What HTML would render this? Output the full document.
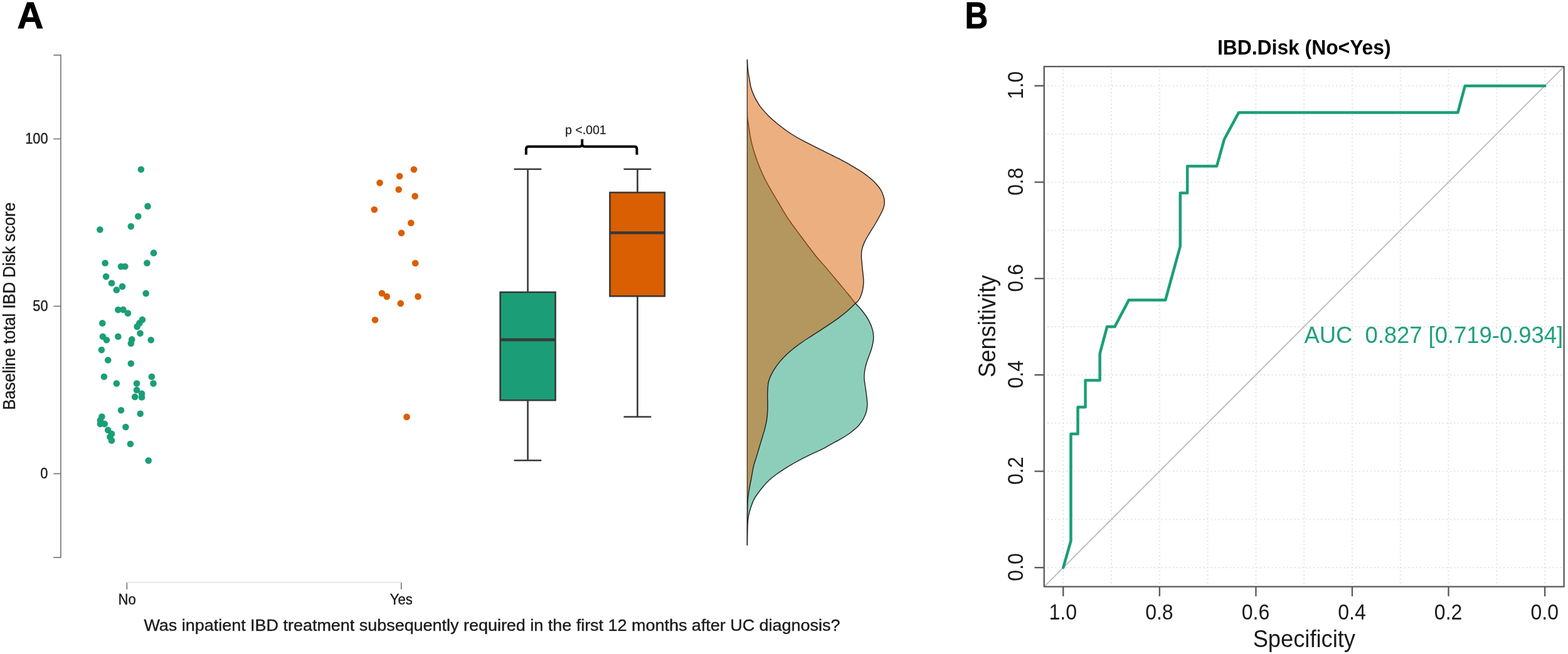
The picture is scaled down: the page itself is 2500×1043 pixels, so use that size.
<!DOCTYPE html>
<html lang="en">
<head>
<meta charset="utf-8">
<title>IBD Disk score and inpatient treatment</title>
<style>
html,body{margin:0;padding:0;background:#fff;}
body{width:2500px;height:1043px;overflow:hidden;}
svg{display:block;}
</style>
</head>
<body>
<svg width="2500" height="1043" viewBox="0 0 2500 1043" role="img" aria-label="Panel A: raincloud plot of baseline total IBD Disk score by inpatient treatment; Panel B: ROC curve">
<rect width="2500" height="1043" fill="#fff"/>
<g>
<g font-family="'Liberation Sans', sans-serif" font-weight="bold" fill="#000" stroke="#000" stroke-width="1" stroke-linejoin="miter">
<text x="27.5" y="44.8" font-size="60.1" textLength="41.8" lengthAdjust="spacingAndGlyphs">A</text>
</g>
<g fill="none" stroke="#7a7a7a" stroke-width="1.7">
<path d="M85.3 87.9H96.9V889.2H85.3"/>
<path d="M85.3 221.5H96.9"/>
<path d="M85.3 488.4H96.9"/>
<path d="M85.3 755.4H96.9"/>
<path d="M202.3 940V929 M639.8 940V929"/>
</g>
<path d="M202.3 928.7H639.8" fill="none" stroke="#dedede" stroke-width="1.6"/>
<g font-family="'Liberation Sans', sans-serif" fill="#1a1a1a" stroke="#1a1a1a" stroke-width="0.35">
<text transform="translate(76.5 229.2) scale(1 1.1)" font-size="21.8" text-anchor="end">100</text>
<text transform="translate(76.5 496.1) scale(1 1.1)" font-size="21.8" text-anchor="end">50</text>
<text transform="translate(76.5 763.1) scale(1 1.1)" font-size="21.8" text-anchor="end">0</text>
<text transform="translate(202.6 963.7) scale(1 1.085)" font-size="22.1" text-anchor="middle">No</text>
<text transform="translate(639.7 963.7) scale(1 1.085)" font-size="22.1" text-anchor="middle">Yes</text>
<text transform="translate(784.4 1005.5) scale(1 1.04)" font-size="24.6" text-anchor="middle" textLength="1110" lengthAdjust="spacingAndGlyphs">Was inpatient IBD treatment subsequently required in the first 12 months after UC diagnosis?</text>
<text transform="translate(23.8 488.3) rotate(-90) scale(1 1.05)" font-size="25.6" text-anchor="middle" textLength="331" lengthAdjust="spacingAndGlyphs">Baseline total IBD Disk score</text>
<text transform="translate(933.8 213.6) scale(1 1.03)" font-size="19.5" text-anchor="middle" stroke-width="0.2">p &lt;.001</text>
</g>
<g fill="#1B9E77">
<circle cx="224.9" cy="270.2" r="5.3"/>
<circle cx="235.5" cy="328.9" r="5.3"/>
<circle cx="220.3" cy="345.0" r="5.3"/>
<circle cx="208.8" cy="361.1" r="5.3"/>
<circle cx="159.3" cy="366.3" r="5.3"/>
<circle cx="245.0" cy="403.4" r="5.3"/>
<circle cx="167.6" cy="419.5" r="5.3"/>
<circle cx="234.4" cy="419.5" r="5.3"/>
<circle cx="193.0" cy="425.0" r="5.3"/>
<circle cx="199.3" cy="425.0" r="5.3"/>
<circle cx="169.1" cy="441.1" r="5.3"/>
<circle cx="178.0" cy="451.5" r="5.3"/>
<circle cx="195.0" cy="456.9" r="5.3"/>
<circle cx="185.8" cy="462.4" r="5.3"/>
<circle cx="232.7" cy="467.9" r="5.3"/>
<circle cx="188.3" cy="494.1" r="5.3"/>
<circle cx="196.4" cy="493.9" r="5.3"/>
<circle cx="203.9" cy="499.6" r="5.3"/>
<circle cx="226.9" cy="509.9" r="5.3"/>
<circle cx="163.3" cy="515.4" r="5.3"/>
<circle cx="222.3" cy="515.4" r="5.3"/>
<circle cx="218.6" cy="520.9" r="5.3"/>
<circle cx="223.5" cy="531.6" r="5.3"/>
<circle cx="163.9" cy="536.8" r="5.3"/>
<circle cx="188.3" cy="536.8" r="5.3"/>
<circle cx="169.9" cy="542.3" r="5.3"/>
<circle cx="210.2" cy="541.4" r="5.3"/>
<circle cx="240.7" cy="542.3" r="5.3"/>
<circle cx="208.8" cy="547.7" r="5.3"/>
<circle cx="161.9" cy="558.1" r="5.3"/>
<circle cx="172.2" cy="574.2" r="5.3"/>
<circle cx="208.8" cy="579.7" r="5.3"/>
<circle cx="165.9" cy="600.7" r="5.3"/>
<circle cx="241.9" cy="600.7" r="5.3"/>
<circle cx="185.8" cy="611.6" r="5.3"/>
<circle cx="218.0" cy="611.6" r="5.3"/>
<circle cx="244.5" cy="611.6" r="5.3"/>
<circle cx="218.0" cy="622.0" r="5.3"/>
<circle cx="226.0" cy="627.7" r="5.3"/>
<circle cx="215.1" cy="632.9" r="5.3"/>
<circle cx="226.0" cy="633.5" r="5.3"/>
<circle cx="193.0" cy="654.2" r="5.3"/>
<circle cx="223.7" cy="659.7" r="5.3"/>
<circle cx="162.4" cy="664.6" r="5.3"/>
<circle cx="159.9" cy="670.3" r="5.3"/>
<circle cx="159.9" cy="676.1" r="5.3"/>
<circle cx="166.8" cy="676.1" r="5.3"/>
<circle cx="200.4" cy="681.0" r="5.3"/>
<circle cx="172.2" cy="685.9" r="5.3"/>
<circle cx="178.0" cy="691.9" r="5.3"/>
<circle cx="175.4" cy="696.8" r="5.3"/>
<circle cx="178.0" cy="702.6" r="5.3"/>
<circle cx="207.9" cy="708.0" r="5.3"/>
<circle cx="236.7" cy="734.5" r="5.3"/>
</g>
<g fill="#D95F02">
<circle cx="659.9" cy="270.3" r="5.3"/>
<circle cx="637.1" cy="281.0" r="5.3"/>
<circle cx="605.5" cy="291.6" r="5.3"/>
<circle cx="635.7" cy="302.3" r="5.3"/>
<circle cx="661.6" cy="312.9" r="5.3"/>
<circle cx="596.8" cy="334.2" r="5.3"/>
<circle cx="655.3" cy="355.5" r="5.3"/>
<circle cx="640.0" cy="371.6" r="5.3"/>
<circle cx="662.2" cy="419.7" r="5.3"/>
<circle cx="608.9" cy="467.7" r="5.3"/>
<circle cx="616.7" cy="472.9" r="5.3"/>
<circle cx="666.5" cy="472.9" r="5.3"/>
<circle cx="638.8" cy="483.9" r="5.3"/>
<circle cx="598.0" cy="510.3" r="5.3"/>
<circle cx="648.5" cy="664.9" r="5.3"/>
</g>
<g stroke="#383838" stroke-width="2.6" fill="none">
<path d="M819.5 269.7H863.2 M841.5 269.7V466 M841.5 638.3V734.3 M819.5 734.3H863.2"/>
<path d="M994.4 269.7H1038.3 M1016.4 269.7V307 M1016.4 472.3V664.7 M994.4 664.7H1038.3"/>
<rect x="797.6" y="466" width="87.9" height="172.3" fill="#1B9E77"/>
<rect x="972.4" y="307" width="87.4" height="165.3" fill="#D95F02"/>
<path d="M797.6 541.9H885.5 M972.4 371.3H1059.8" stroke-width="4.6"/>
</g>
<path d="M838.8 246.8V237.7Q838.8 233.8 842.8 233.8H924.2Q928.2 233.8 928.2 229.8V221.9 M928.2 229.8Q928.2 233.8 932.2 233.8H1011.4Q1015.4 233.8 1015.4 237.7V246.8" fill="none" stroke="#000" stroke-width="3.9" stroke-linecap="butt"/>
<g stroke="#1e1e1e" stroke-width="1.4" stroke-linejoin="round">
<path d="M1191.4 95.1 C1191.4 107.6 1191.4 154.6 1191.4 170.0 C1191.5 185.4 1191.5 183.0 1191.7 187.3 C1192.0 191.6 1192.3 191.6 1192.9 195.9 C1193.5 200.2 1194.5 207.4 1195.5 213.2 C1196.5 218.9 1197.5 224.7 1199.0 230.4 C1200.5 236.2 1202.2 241.6 1204.2 247.7 C1206.2 253.8 1208.5 260.4 1211.1 266.7 C1213.7 273.0 1216.5 279.4 1219.7 285.7 C1222.9 292.0 1226.6 298.6 1230.1 304.6 C1233.5 310.6 1236.1 314.7 1240.4 321.9 C1244.7 329.1 1249.8 338.5 1256.0 347.8 C1262.2 357.1 1270.2 367.6 1277.5 377.5 C1284.8 387.4 1293.4 398.9 1300.0 407.2 C1306.6 415.5 1311.5 420.3 1317.3 427.1 C1323.0 433.9 1328.8 440.9 1334.5 447.8 C1340.2 454.7 1346.9 462.5 1351.8 468.5 C1356.7 474.5 1360.5 479.6 1363.9 483.7 C1367.4 487.8 1369.6 489.5 1372.5 493.0 C1375.4 496.5 1378.8 500.9 1381.2 504.5 C1383.6 508.1 1385.2 511.0 1386.9 514.6 C1388.6 518.2 1390.2 522.5 1391.2 526.1 C1392.2 529.7 1392.6 532.8 1392.7 536.1 C1392.8 539.5 1392.6 542.6 1392.0 546.2 C1391.4 549.8 1390.2 554.1 1389.1 557.7 C1388.0 561.3 1386.7 564.4 1385.5 567.8 C1384.3 571.1 1383.0 574.2 1381.9 577.8 C1380.8 581.4 1379.7 585.1 1379.0 589.3 C1378.3 593.5 1377.7 597.8 1377.9 603.0 C1378.1 608.2 1379.5 615.2 1380.2 620.7 C1380.9 626.2 1381.8 631.6 1382.2 636.0 C1382.6 640.4 1383.0 643.2 1382.8 646.8 C1382.6 650.4 1382.1 653.9 1381.0 657.5 C1379.9 661.1 1378.5 664.6 1376.4 668.2 C1374.4 671.8 1372.0 675.4 1368.7 679.0 C1365.4 682.6 1361.0 686.2 1356.4 689.7 C1351.8 693.2 1346.2 696.6 1341.1 699.7 C1336.0 702.8 1330.8 705.3 1325.7 708.1 C1320.6 710.9 1315.5 714.0 1310.4 716.6 C1305.3 719.2 1300.2 721.2 1295.1 723.6 C1290.0 726.0 1284.8 728.5 1279.7 731.1 C1274.6 733.8 1269.5 736.5 1264.4 739.5 C1259.3 742.5 1253.5 745.9 1249.0 748.8 C1244.5 751.7 1241.3 753.9 1237.5 756.8 C1233.7 759.7 1229.8 762.4 1226.0 766.0 C1222.2 769.6 1218.3 773.9 1214.5 778.7 C1210.7 783.5 1205.9 789.8 1203.0 794.8 C1200.1 799.8 1198.8 804.2 1197.3 808.6 C1195.8 813.0 1194.7 816.9 1193.8 821.3 C1192.9 825.7 1192.5 827.1 1192.1 835.1 C1191.7 843.1 1191.5 863.7 1191.4 869.4 Z" fill="#1B9E77" fill-opacity="0.5"/>
<path d="M1191.4 95.1 C1191.5 96.6 1191.7 101.0 1191.9 104.0 C1192.1 107.0 1192.2 109.2 1192.7 113.0 C1193.2 116.8 1194.2 122.4 1195.0 126.8 C1195.8 131.2 1196.0 134.9 1197.3 139.5 C1198.6 144.1 1201.1 150.2 1203.0 154.4 C1204.9 158.6 1206.9 161.7 1208.8 164.8 C1210.7 167.9 1211.6 169.5 1214.5 172.9 C1217.4 176.3 1221.8 181.3 1226.0 185.5 C1230.2 189.7 1235.3 193.9 1240.0 197.8 C1244.7 201.7 1249.6 205.3 1254.4 208.7 C1259.2 212.1 1264.0 215.1 1268.8 218.0 C1273.6 220.9 1278.3 223.4 1283.1 225.9 C1287.9 228.4 1292.7 230.7 1297.5 233.1 C1302.3 235.5 1307.1 237.9 1311.9 240.3 C1316.7 242.7 1321.5 245.1 1326.3 247.5 C1331.1 249.9 1335.8 252.2 1340.6 254.7 C1345.4 257.2 1350.2 259.9 1355.0 262.6 C1359.8 265.4 1364.6 268.1 1369.4 271.2 C1374.2 274.3 1379.5 277.9 1383.8 281.3 C1388.1 284.7 1391.9 287.9 1395.3 291.4 C1398.7 294.9 1401.6 298.4 1403.9 302.1 C1406.2 305.8 1407.9 310.3 1408.9 313.7 C1410.0 317.1 1410.2 319.6 1410.2 322.5 C1410.2 325.4 1409.9 327.7 1408.8 331.0 C1407.7 334.3 1405.9 338.0 1403.6 342.5 C1401.3 347.0 1397.9 353.1 1395.0 358.0 C1392.1 362.9 1389.1 367.2 1386.4 371.8 C1383.7 376.4 1380.6 381.3 1378.6 385.6 C1376.6 389.9 1375.2 393.7 1374.3 397.7 C1373.4 401.7 1373.4 405.5 1373.4 409.8 C1373.5 414.1 1374.2 419.0 1374.6 423.6 C1375.0 428.2 1375.6 433.1 1376.0 437.4 C1376.4 441.7 1377.0 445.5 1376.9 449.5 C1376.8 453.5 1376.3 457.9 1375.6 461.6 C1374.9 465.4 1373.7 469.0 1372.5 472.0 C1371.3 475.0 1369.6 477.9 1368.2 479.8 C1366.8 481.8 1366.8 481.0 1363.9 483.7 C1361.0 486.4 1355.5 491.9 1351.0 495.9 C1346.5 499.8 1341.4 503.8 1336.6 507.4 C1331.8 511.0 1327.0 514.2 1322.2 517.4 C1317.4 520.6 1312.6 523.7 1307.8 526.8 C1303.0 529.9 1298.3 533.0 1293.5 536.1 C1288.7 539.2 1283.9 542.1 1279.1 545.5 C1274.3 548.9 1269.0 552.8 1264.7 556.3 C1260.4 559.8 1256.8 562.8 1253.2 566.3 C1249.6 569.8 1246.1 573.5 1243.1 577.1 C1240.1 580.7 1237.6 584.2 1235.2 587.9 C1232.8 591.6 1230.5 595.8 1228.8 599.4 C1227.1 603.0 1226.0 606.2 1225.2 609.5 C1224.4 612.8 1224.5 615.6 1224.2 619.0 C1224.0 622.4 1223.7 625.8 1223.7 629.9 C1223.7 634.0 1224.0 639.1 1224.0 643.7 C1224.0 648.3 1224.0 652.9 1223.7 657.5 C1223.4 662.1 1223.0 666.7 1222.2 671.3 C1221.4 675.9 1220.4 680.2 1219.1 685.1 C1217.8 690.0 1216.0 695.4 1214.5 700.5 C1213.0 705.6 1211.4 710.7 1209.9 715.8 C1208.4 720.9 1206.7 726.5 1205.3 731.1 C1203.9 735.7 1202.8 737.6 1201.5 743.4 C1200.2 749.2 1198.6 759.2 1197.3 766.0 C1196.0 772.8 1194.7 778.6 1193.8 784.4 C1192.9 790.1 1192.5 792.9 1192.1 800.5 C1191.7 808.1 1191.6 818.5 1191.5 830.0 C1191.4 841.5 1191.4 862.8 1191.4 869.4 Z" fill="#D95F02" fill-opacity="0.5" stroke="none"/>
<path d="M1191.4 95.1 C1191.5 96.6 1191.7 101.0 1191.9 104.0 C1192.1 107.0 1192.2 109.2 1192.7 113.0 C1193.2 116.8 1194.2 122.4 1195.0 126.8 C1195.8 131.2 1196.0 134.9 1197.3 139.5 C1198.6 144.1 1201.1 150.2 1203.0 154.4 C1204.9 158.6 1206.9 161.7 1208.8 164.8 C1210.7 167.9 1211.6 169.5 1214.5 172.9 C1217.4 176.3 1221.8 181.3 1226.0 185.5 C1230.2 189.7 1235.3 193.9 1240.0 197.8 C1244.7 201.7 1249.6 205.3 1254.4 208.7 C1259.2 212.1 1264.0 215.1 1268.8 218.0 C1273.6 220.9 1278.3 223.4 1283.1 225.9 C1287.9 228.4 1292.7 230.7 1297.5 233.1 C1302.3 235.5 1307.1 237.9 1311.9 240.3 C1316.7 242.7 1321.5 245.1 1326.3 247.5 C1331.1 249.9 1335.8 252.2 1340.6 254.7 C1345.4 257.2 1350.2 259.9 1355.0 262.6 C1359.8 265.4 1364.6 268.1 1369.4 271.2 C1374.2 274.3 1379.5 277.9 1383.8 281.3 C1388.1 284.7 1391.9 287.9 1395.3 291.4 C1398.7 294.9 1401.6 298.4 1403.9 302.1 C1406.2 305.8 1407.9 310.3 1408.9 313.7 C1410.0 317.1 1410.2 319.6 1410.2 322.5 C1410.2 325.4 1409.9 327.7 1408.8 331.0 C1407.7 334.3 1405.9 338.0 1403.6 342.5 C1401.3 347.0 1397.9 353.1 1395.0 358.0 C1392.1 362.9 1389.1 367.2 1386.4 371.8 C1383.7 376.4 1380.6 381.3 1378.6 385.6 C1376.6 389.9 1375.2 393.7 1374.3 397.7 C1373.4 401.7 1373.4 405.5 1373.4 409.8 C1373.5 414.1 1374.2 419.0 1374.6 423.6 C1375.0 428.2 1375.6 433.1 1376.0 437.4 C1376.4 441.7 1377.0 445.5 1376.9 449.5 C1376.8 453.5 1376.3 457.9 1375.6 461.6 C1374.9 465.4 1373.7 469.0 1372.5 472.0 C1371.3 475.0 1369.6 477.9 1368.2 479.8 C1366.8 481.8 1366.8 481.0 1363.9 483.7 C1361.0 486.4 1355.5 491.9 1351.0 495.9 C1346.5 499.8 1341.4 503.8 1336.6 507.4 C1331.8 511.0 1327.0 514.2 1322.2 517.4 C1317.4 520.6 1312.6 523.7 1307.8 526.8 C1303.0 529.9 1298.3 533.0 1293.5 536.1 C1288.7 539.2 1283.9 542.1 1279.1 545.5 C1274.3 548.9 1269.0 552.8 1264.7 556.3 C1260.4 559.8 1256.8 562.8 1253.2 566.3 C1249.6 569.8 1246.1 573.5 1243.1 577.1 C1240.1 580.7 1237.6 584.2 1235.2 587.9 C1232.8 591.6 1230.5 595.8 1228.8 599.4 C1227.1 603.0 1226.0 606.2 1225.2 609.5 C1224.4 612.8 1224.5 615.6 1224.2 619.0 C1224.0 622.4 1223.7 625.8 1223.7 629.9 C1223.7 634.0 1224.0 639.1 1224.0 643.7 C1224.0 648.3 1224.0 652.9 1223.7 657.5 C1223.4 662.1 1223.0 666.7 1222.2 671.3 C1221.4 675.9 1220.4 680.2 1219.1 685.1 C1217.8 690.0 1216.0 695.4 1214.5 700.5 C1213.0 705.6 1211.4 710.7 1209.9 715.8 C1208.4 720.9 1206.7 726.5 1205.3 731.1 C1203.9 735.7 1202.8 737.6 1201.5 743.4 C1200.2 749.2 1198.6 759.2 1197.3 766.0 C1196.0 772.8 1194.7 778.6 1193.8 784.4 C1192.9 790.1 1192.5 792.9 1192.1 800.5 C1191.7 808.1 1191.6 818.5 1191.5 830.0 C1191.4 841.5 1191.4 862.8 1191.4 869.4" fill="none"/>
</g>
</g>
<g>
<text x="1538.5" y="44.8" font-size="60.1" textLength="36.8" lengthAdjust="spacingAndGlyphs" font-family="'Liberation Sans', sans-serif" font-weight="bold" fill="#000" stroke="#000" stroke-width="1" stroke-linejoin="miter">B</text>
<g fill="none" stroke="#e2e2e2" stroke-width="2" stroke-dasharray="2 4.058">
<path d="M2463.1 106.1V935.8" stroke-dashoffset="1.8"/>
<path d="M1664.7 905.2H2493.6" stroke-dashoffset="0.8"/>
<path d="M2386.3 106.1V935.8" stroke-dashoffset="1.8"/>
<path d="M1664.7 828.4H2493.6" stroke-dashoffset="0.8"/>
<path d="M2309.5 106.1V935.8" stroke-dashoffset="1.8"/>
<path d="M1664.7 751.6H2493.6" stroke-dashoffset="0.8"/>
<path d="M2232.7 106.1V935.8" stroke-dashoffset="1.8"/>
<path d="M1664.7 674.7H2493.6" stroke-dashoffset="0.8"/>
<path d="M2155.9 106.1V935.8" stroke-dashoffset="1.8"/>
<path d="M1664.7 597.9H2493.6" stroke-dashoffset="0.8"/>
<path d="M2079.2 106.1V935.8" stroke-dashoffset="1.8"/>
<path d="M1664.7 521.0H2493.6" stroke-dashoffset="0.8"/>
<path d="M2002.4 106.1V935.8" stroke-dashoffset="1.8"/>
<path d="M1664.7 444.2H2493.6" stroke-dashoffset="0.8"/>
<path d="M1925.6 106.1V935.8" stroke-dashoffset="1.8"/>
<path d="M1664.7 367.3H2493.6" stroke-dashoffset="0.8"/>
<path d="M1848.8 106.1V935.8" stroke-dashoffset="1.8"/>
<path d="M1664.7 290.5H2493.6" stroke-dashoffset="0.8"/>
<path d="M1772.0 106.1V935.8" stroke-dashoffset="1.8"/>
<path d="M1664.7 213.6H2493.6" stroke-dashoffset="0.8"/>
<path d="M1695.2 106.1V935.8" stroke-dashoffset="1.8"/>
<path d="M1664.7 136.8H2493.6" stroke-dashoffset="0.8"/>
</g>
<path d="M1664.7 935.8L2493.6 106.1" stroke="#bcbcbc" stroke-width="1.8" fill="none"/>
<path d="M1695.2 905.3 L1707.4 862.7 L1707.4 691.9 L1718.5 691.9 L1718.5 649.2 L1730.5 649.2 L1730.5 606.5 L1753.6 606.5 L1753.6 563.8 L1765.1 521.1 L1777.3 521.1 L1799.9 478.4 L1858.2 478.4 L1881.7 393.0 L1881.7 307.7 L1893.1 307.7 L1893.1 265.0 L1940.0 265.0 L1951.9 222.3 L1974.9 179.6 L2324.3 179.6 L2335.8 136.9 L2463.1 136.9" fill="none" stroke="#1B9E77" stroke-width="4.5" stroke-linejoin="round" stroke-linecap="round"/>
<g fill="none" stroke="#585858" stroke-width="2.3" stroke-linejoin="round">
<rect x="1664.7" y="106.1" width="828.9" height="829.6"/>
<path d="M2463.1 935.8V951.0"/>
<path d="M1664.7 905.2H1649.4"/>
<path d="M2309.5 935.8V951.0"/>
<path d="M1664.7 751.6H1649.4"/>
<path d="M2155.9 935.8V951.0"/>
<path d="M1664.7 597.9H1649.4"/>
<path d="M2002.4 935.8V951.0"/>
<path d="M1664.7 444.2H1649.4"/>
<path d="M1848.8 935.8V951.0"/>
<path d="M1664.7 290.5H1649.4"/>
<path d="M1695.2 935.8V951.0"/>
<path d="M1664.7 136.8H1649.4"/>
</g>
<g font-family="'Liberation Sans', sans-serif" fill="#1a1a1a">
<text transform="translate(2462.7 988.4) scale(1 1.070)" font-size="32" text-anchor="middle">0.0</text>
<text transform="translate(1630.8 904.4) rotate(-90) scale(1 1.070)" font-size="32" text-anchor="middle">0.0</text>
<text transform="translate(2309.1 988.4) scale(1 1.070)" font-size="32" text-anchor="middle">0.2</text>
<text transform="translate(1630.8 750.7) rotate(-90) scale(1 1.070)" font-size="32" text-anchor="middle">0.2</text>
<text transform="translate(2155.5 988.4) scale(1 1.070)" font-size="32" text-anchor="middle">0.4</text>
<text transform="translate(1630.8 597.0) rotate(-90) scale(1 1.070)" font-size="32" text-anchor="middle">0.4</text>
<text transform="translate(2002.0 988.4) scale(1 1.070)" font-size="32" text-anchor="middle">0.6</text>
<text transform="translate(1630.8 443.3) rotate(-90) scale(1 1.070)" font-size="32" text-anchor="middle">0.6</text>
<text transform="translate(1848.4 988.4) scale(1 1.070)" font-size="32" text-anchor="middle">0.8</text>
<text transform="translate(1630.8 289.6) rotate(-90) scale(1 1.070)" font-size="32" text-anchor="middle">0.8</text>
<text transform="translate(1694.8 988.4) scale(1 1.070)" font-size="32" text-anchor="middle">1.0</text>
<text transform="translate(1630.8 135.9) rotate(-90) scale(1 1.070)" font-size="32" text-anchor="middle">1.0</text>
<text transform="translate(2079.3 1032.3) scale(1 1.045)" font-size="36.3" text-anchor="middle">Specificity</text>
<text transform="translate(1586.6 520.3) rotate(-90) scale(1 1.045)" font-size="36.3" text-anchor="middle">Sensitivity</text>
<text transform="translate(2079.3 86.8) scale(1 1.04)" font-size="31.8" font-weight="bold" text-anchor="middle" fill="#000">IBD.Disk (No&lt;Yes)</text>
<text transform="translate(2079.4 547.4) scale(1 1.03)" font-size="36.4" fill="#1FA07A" xml:space="preserve" style="white-space:pre">AUC  0.827 [0.719-0.934]</text>
</g>
</g>
</svg>
</body>
</html>
